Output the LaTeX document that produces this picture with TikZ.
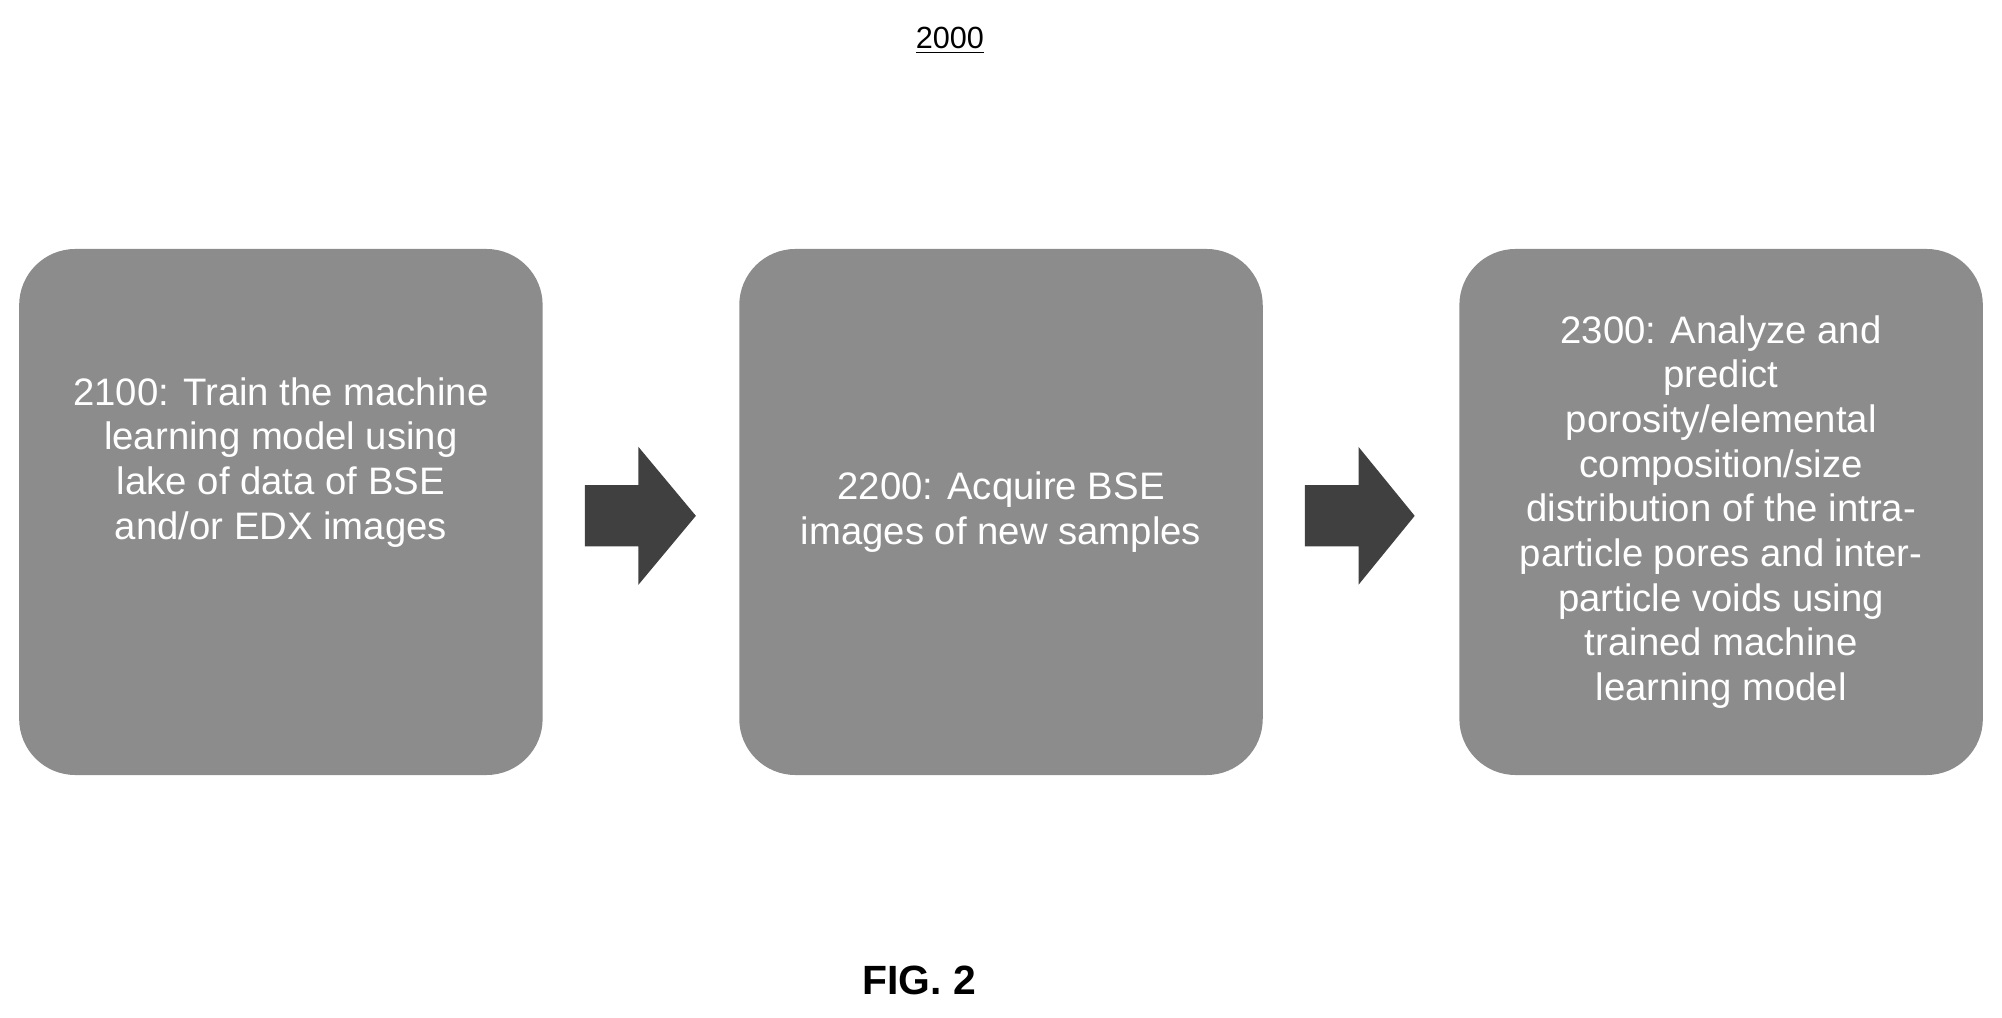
\documentclass[tikz,border=0pt]{standalone}
\usepackage{fontspec}
\setmainfont{Liberation Sans}
\begin{document}
\begin{tikzpicture}[x=0.5pt,y=-0.5pt,
  stepbox/.style={rounded corners=22pt,fill=black!45,minimum width=205pt,minimum height=206pt,
    text=white,align=center,font=\fontsize{15}{17.5}\selectfont,inner sep=0pt},
  blockarrow/.style={fill=black!75}]
\useasboundingbox (0,0) rectangle (1568,797);
\node (t) at (744,32) {\fontsize{12}{14}\selectfont\underline{2000}};
\node[stepbox] (a) at (220,401) {};
\node[font=\fontsize{15}{17.5}\selectfont,text=white,align=center] (at) at (220,362) {2100: Train the machine\\learning model using\\lake of data of BSE\\and/or EDX images};
\node[stepbox] (b) at (784,401) {2200: Acquire BSE\\images of new samples};
\node[stepbox] (c) at (1348,401) {2300: Analyze and\\predict\\porosity/elemental\\composition/size\\distribution of the intra-\\particle pores and inter-\\particle voids using\\trained machine\\learning model};
\fill[blockarrow] (458,380) -- (500,380) -- (500,350) -- (545,404) -- (500,458) -- (500,428) -- (458,428) -- cycle;
\fill[blockarrow] (1022,380) -- (1064,380) -- (1064,350) -- (1108,404) -- (1064,458) -- (1064,428) -- (1022,428) -- cycle;
\node[font=\bfseries\fontsize{16}{18}\selectfont] (f) at (720,768) {FIG. 2};
\end{tikzpicture}
\end{document}
